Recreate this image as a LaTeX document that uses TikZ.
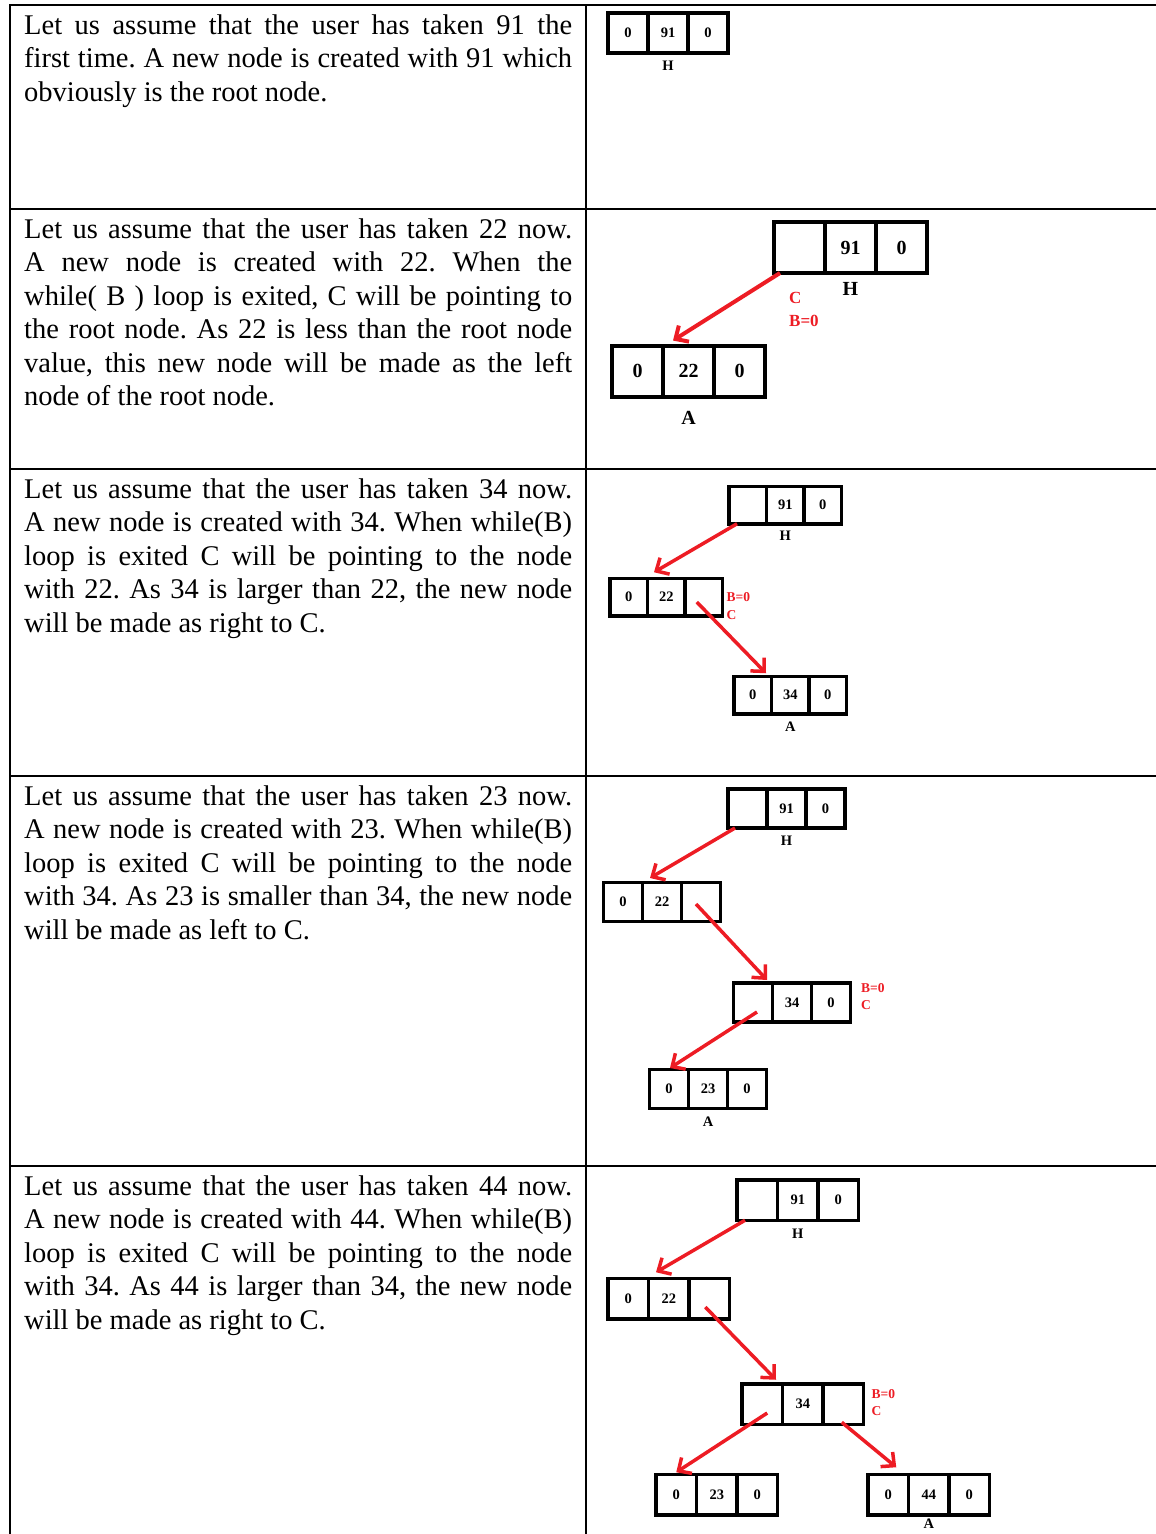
\documentclass[tikz,border=0pt]{standalone}
\usepackage{fontspec}
\setmainfont{Liberation Serif}
\usepackage{tikz}
\usetikzlibrary{arrows.meta}
\usetikzlibrary{positioning}
\definecolor{ptrred}{RGB}{237,28,36}
\frenchspacing
\newcommand{\bodyfont}{\fontsize{28.5}{33.5}\selectfont}
\newcommand{\digits}{\bfseries\fontsize{14.5}{16}\selectfont}
\newcommand{\bigdigits}{\bfseries\fontsize{20}{22}\selectfont}
\newcommand{\redfont}{\bfseries\fontsize{13.5}{17.5}\selectfont}
\newcommand{\bigred}{\bfseries\fontsize{17}{23}\selectfont}
% one tree node: left link, value, right link
\newcommand{\rec}[6]{%
\node[#3] (#1l) at #2 {#4};
\node[#3, right=0pt of #1l] (#1m) {#5};
\node[#3, right=0pt of #1m] (#1r) {#6};}

\begin{document}
\begin{tikzpicture}[x=1pt,y=-1pt,
  rule/.style={line width=2pt},
  para/.style={anchor=north west, text width=548pt, align=justify, inner sep=0pt, font=\bodyfont},
  cell/.style={draw, line width=3.5pt, outer sep=0pt, inner sep=0pt, minimum width=#1, minimum height=#1, font=\digits},
  lbl/.style={inner sep=0pt, font=\digits},
  flag/.style={anchor=north west, inner sep=0pt, align=left, text=ptrred, font=\redfont},
  ptr/.style={draw=ptrred, line width=3.5pt, -{Straight Barb[length=10pt,width=19pt]}}]
\useasboundingbox (0,0) rectangle (1156,1534);

% table
\foreach \y in {5,209,469,776,1166} \draw[rule] (9,\y) -- (1156,\y);
\draw[rule] (10,5) -- (10,1534);
\draw[rule] (586,5) -- (586,1534);

% left column
\node[para] (t1) at (24,14.5) {Let us assume that the user has taken 91 the\linebreak
first time. A new node is created with 91 which\linebreak
obviously is the root node.};
\node[para] (t2) at (24,218.5) {Let us assume that the user has taken 22 now.\linebreak
A new node is created with 22. When the\linebreak
while( B ) loop is exited, C will be pointing to\linebreak
the root node. As 22 is less than the root node\linebreak
value, this new node will be made as the left\linebreak
node of the root node.};
\node[para] (t3) at (24,478.5) {Let us assume that the user has taken 34 now.\linebreak
A new node is created with 34. When while(B)\linebreak
loop is exited C will be pointing to the node\linebreak
with 22. As 34 is larger than 22, the new node\linebreak
will be made as right to C.};
\node[para] (t4) at (24,785.5) {Let us assume that the user has taken 23 now.\linebreak
A new node is created with 23. When while(B)\linebreak
loop is exited C will be pointing to the node\linebreak
with 34. As 23 is smaller than 34, the new node\linebreak
will be made as left to C.};
\node[para] (t5) at (24,1175.5) {Let us assume that the user has taken 44 now.\linebreak
A new node is created with 44. When while(B)\linebreak
loop is exited C will be pointing to the node\linebreak
with 34. As 44 is larger than 34, the new node\linebreak
will be made as right to C.};

% step 1
\rec{r1root}{(628,33)}{cell=40pt}{0}{91}{0}
\node[lbl, below=8pt of r1rootm] (r1H) {H};

% step 2
\rec{r2root}{(799.5,247.5)}{cell=51pt, line width=4pt, font=\bigdigits}{}{91}{0}
\rec{r2n22}{(637.5,371)}{cell=51pt, line width=4pt, font=\bigdigits}{0}{22}{0}
\node[lbl, font=\bigdigits, below=9.5pt of r2rootm] (r2H) {H};
\node[lbl, font=\bigdigits, below=15pt of r2n22m] (r2A) {A};
\node[flag, font=\bigred] (r2flag) at ([xshift=-36pt,yshift=-19pt]r2rootl.south east) {C\\B=0};
\path ([xshift=6pt]r2rootl.south west) edge[ptr, line width=4pt] ([xshift=10pt,yshift=5pt]r2n22m.north west);

% step 3
\rec{r3root}{(747.75,505)}{cell=37.5pt}{}{91}{0}
\rec{r3n22}{(628.75,597)}{cell=37.5pt}{0}{22}{}
\rec{r3n34}{(752.75,695)}{cell=37.5pt}{0}{34}{0}
\node[lbl, below=7.5pt of r3rootm] (r3H) {H};
\node[lbl, below=7.5pt of r3n34m] (r3A) {A};
\node[flag] (r3flag) at ([xshift=4pt,yshift=-14.5pt]r3n22r.north east) {B=0\\C};
\path ([xshift=8pt]r3rootl.south west) edge[ptr] ([xshift=6.5pt,yshift=6pt]r3n22m.north west);
\path ([xshift=-7pt,yshift=-5pt]r3n22r.center) edge[ptr] ([xshift=-5.5pt,yshift=3pt]r3n34m.north west);

% step 4
\rec{r4root}{(747.5,808.5)}{cell=39pt}{}{91}{0}
\rec{r4n22}{(623,902)}{cell=39pt}{0}{22}{}
\rec{r4n34}{(753,1002.5)}{cell=39pt}{}{34}{0}
\rec{r4n23}{(669,1089)}{cell=39pt}{0}{23}{0}
\node[lbl, below=7.5pt of r4rootm] (r4H) {H};
\node[lbl, below=8pt of r4n23m] (r4A) {A};
\node[flag] (r4flag) at ([xshift=10.5pt]r4n34r.north east) {B=0\\C};
\path ([xshift=7pt]r4rootl.south west) edge[ptr] ([xshift=7.5pt,yshift=4.5pt]r4n22m.north west);
\path ([xshift=-5pt,yshift=-2pt]r4n22r.center) edge[ptr] ([xshift=-5.5pt,yshift=3pt]r4n34m.north west);
\path ([xshift=4pt,yshift=-9.5pt]r4n34l.center) edge[ptr] ([xshift=1pt,yshift=1.5pt]r4n23l.north);

% step 5
\rec{r5root}{(757.25,1200)}{cell=40.5pt}{}{91}{0}
\rec{r5n22}{(628.25,1298.5)}{cell=40.5pt}{0}{22}{}
\rec{r5n34}{(762.25,1404)}{cell=40.5pt}{}{34}{}
\rec{r5n23}{(676.25,1494.5)}{cell=40.5pt}{0}{23}{0}
\rec{r5n44}{(888.25,1494.5)}{cell=40.5pt}{0}{44}{0}
\node[lbl, below=8.5pt of r5rootm] (r5H) {H};
\node[lbl, below=3.5pt of r5n44m] (r5A) {A};
\node[flag] (r5flag) at ([xshift=8pt,yshift=-5.5pt]r5n34r.north east) {B=0\\C};
\path ([xshift=8pt]r5rootl.south west) edge[ptr] ([xshift=7.5pt,yshift=6pt]r5n22m.north west);
\path ([xshift=-4pt,yshift=-8.5pt]r5n22r.center) edge[ptr] ([xshift=-6.5pt,yshift=4pt]r5n34m.north west);
\path ([xshift=5pt,yshift=-9pt]r5n34l.center) edge[ptr] ([yshift=2pt]r5n23l.north);
\path ([xshift=-1.5pt,yshift=2pt]r5n34r.south) edge[ptr] ([xshift=8pt,yshift=7pt]r5n44l.north);
\end{tikzpicture}
\end{document}
